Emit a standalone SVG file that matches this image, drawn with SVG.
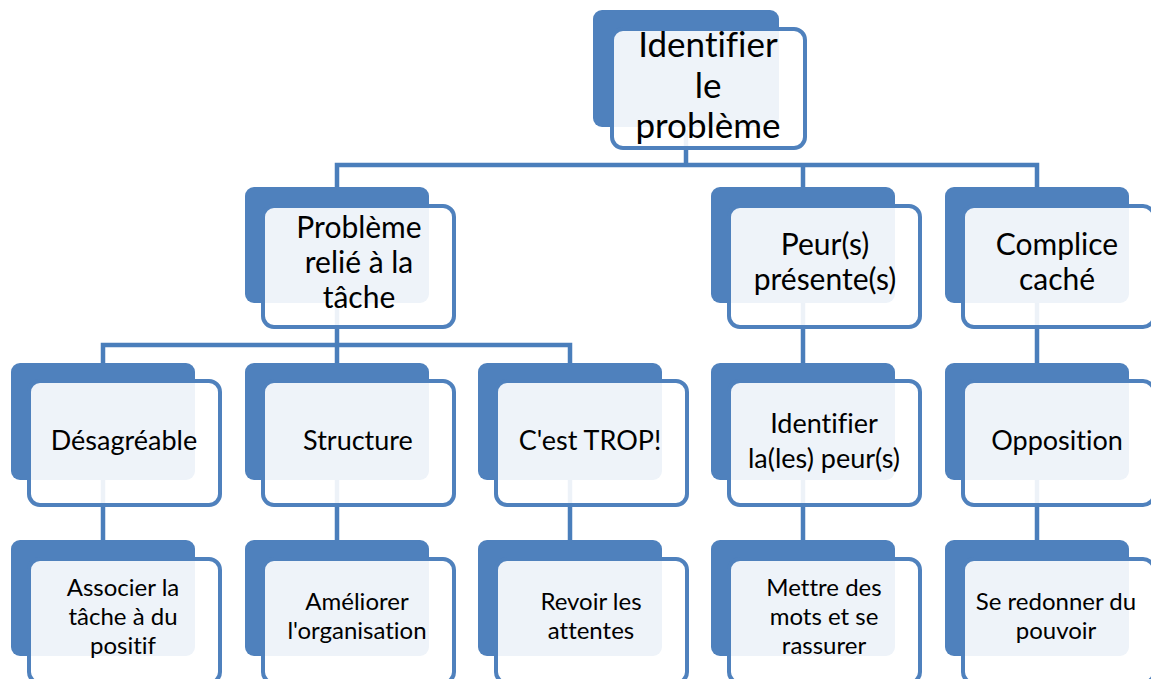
<svg xmlns="http://www.w3.org/2000/svg" width="1151" height="679" viewBox="0 0 1151 679">
<style>
.bk{fill:#4F81BD;}
.fr{fill:#FFFFFF;fill-opacity:0.9;stroke:#4F81BD;stroke-width:4;}
.cn{fill:none;stroke:#4A7EBB;stroke-width:4.5;}
text{font-family:Lato,"Liberation Sans",sans-serif;fill:#000;text-anchor:middle;font-variant-ligatures:none;}
.t0{font-size:35px;}
.t1{font-size:30px;}
.t2{font-size:27px;}
.t3{font-size:24px;}
</style>
<rect width="1151" height="679" fill="#FFFFFF"/>
<g id="connectors">
<path class="cn" d="M686 130 V165 M337 165 V200 M803 165 V200 M1037 165 V200 M334.75 165 H1039.25"/>
<path class="cn" d="M337 300 V345 M103 345 V380 M337 345 V380 M570 345 V380 M100.75 345 H572.25"/>
<path class="cn" d="M803 300 V380 M1037 300 V380"/>
<path class="cn" d="M103 470 V555 M337 470 V555 M570 470 V555 M803 470 V555 M1037 470 V555"/>
</g>
<g id="n-top">
<rect class="bk" x="593" y="10" width="186" height="117" rx="9"/>
<rect class="fr" x="612" y="29" width="193" height="119" rx="11"/>
<text class="t0" x="708" y="57">Identifier</text>
<text class="t0" x="708" y="98">le</text>
<text class="t0" x="708" y="138">problème</text>
</g>
<g id="n-tache">
<rect class="bk" x="245" y="187" width="184" height="116" rx="9"/>
<rect class="fr" x="263" y="206" width="191" height="121" rx="11"/>
<text class="t1" x="359" y="238">Problème</text>
<text class="t1" x="359" y="273">relié à la</text>
<text class="t1" x="359" y="308">tâche</text>
</g>
<g id="n-peur">
<rect class="bk" x="711" y="187" width="184" height="116" rx="9"/>
<rect class="fr" x="729" y="206" width="191" height="121" rx="11"/>
<text class="t1" x="825" y="255">Peur(s)</text>
<text class="t1" x="825" y="290">présente(s)</text>
</g>
<g id="n-complice">
<rect class="bk" x="945" y="187" width="184" height="116" rx="9"/>
<rect class="fr" x="963" y="206" width="191" height="121" rx="11"/>
<text class="t1" x="1057" y="255">Complice</text>
<text class="t1" x="1057" y="290">caché</text>
</g>
<g id="n-desagreable">
<rect class="bk" x="11" y="363" width="184" height="117" rx="9"/>
<rect class="fr" x="29" y="381" width="191" height="124" rx="11"/>
<text class="t2" x="124" y="450">Désagréable</text>
</g>
<g id="n-structure">
<rect class="bk" x="245" y="363" width="184" height="117" rx="9"/>
<rect class="fr" x="263" y="381" width="191" height="124" rx="11"/>
<text class="t2" x="358" y="450">Structure</text>
</g>
<g id="n-trop">
<rect class="bk" x="478" y="363" width="184" height="117" rx="9"/>
<rect class="fr" x="496" y="381" width="191" height="124" rx="11"/>
<text class="t2" x="590" y="450">C'est TROP!</text>
</g>
<g id="n-identifier-peur">
<rect class="bk" x="711" y="363" width="184" height="117" rx="9"/>
<rect class="fr" x="729" y="381" width="191" height="124" rx="11"/>
<text class="t2" x="824" y="433">Identifier</text>
<text class="t2" x="824" y="468">la(les) peur(s)</text>
</g>
<g id="n-opposition">
<rect class="bk" x="945" y="363" width="184" height="117" rx="9"/>
<rect class="fr" x="963" y="381" width="191" height="124" rx="11"/>
<text class="t2" x="1057" y="450">Opposition</text>
</g>
<g id="n-associer">
<rect class="bk" x="11" y="540" width="184" height="116" rx="9"/>
<rect class="fr" x="29" y="559" width="191" height="124" rx="11"/>
<text class="t3" x="123" y="596">Associer la</text>
<text class="t3" x="123" y="625">tâche à du</text>
<text class="t3" x="123" y="654">positif</text>
</g>
<g id="n-ameliorer">
<rect class="bk" x="245" y="540" width="184" height="116" rx="9"/>
<rect class="fr" x="263" y="559" width="191" height="124" rx="11"/>
<text class="t3" x="357" y="610">Améliorer</text>
<text class="t3" x="357" y="639">l'organisation</text>
</g>
<g id="n-revoir">
<rect class="bk" x="478" y="540" width="184" height="116" rx="9"/>
<rect class="fr" x="496" y="559" width="191" height="124" rx="11"/>
<text class="t3" x="591" y="610">Revoir les</text>
<text class="t3" x="591" y="639">attentes</text>
</g>
<g id="n-mettre">
<rect class="bk" x="711" y="540" width="184" height="116" rx="9"/>
<rect class="fr" x="729" y="559" width="191" height="124" rx="11"/>
<text class="t3" x="824" y="596">Mettre des</text>
<text class="t3" x="824" y="625">mots et se</text>
<text class="t3" x="824" y="654">rassurer</text>
</g>
<g id="n-pouvoir">
<rect class="bk" x="945" y="540" width="184" height="116" rx="9"/>
<rect class="fr" x="963" y="559" width="191" height="124" rx="11"/>
<text class="t3" x="1056" y="610">Se redonner du</text>
<text class="t3" x="1056" y="639">pouvoir</text>
</g>
</svg>
